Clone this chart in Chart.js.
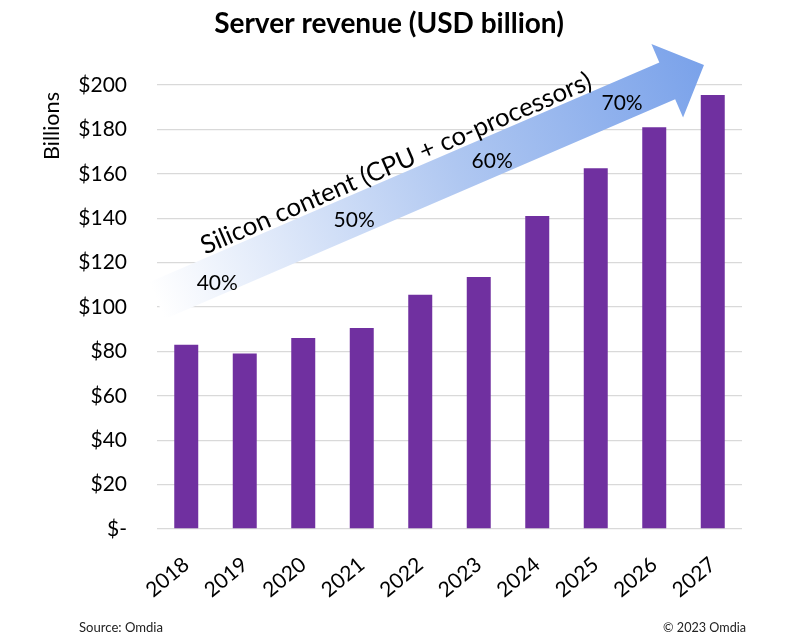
<!DOCTYPE html>
<html><head><meta charset="utf-8">
<script src="https://cdn.jsdelivr.net/npm/chart.js@4"></script>
<style>html,body{margin:0;padding:0;background:#fff}#wrap{width:800px;height:637px;position:relative}</style>
</head><body><div id="wrap"><canvas id="c" width="800" height="637"></canvas></div>
<script>
// ---- data ----
const categories = ['2018','2019','2020','2021','2022','2023','2024','2025','2026','2027'];
const revenue = [83, 79, 86, 90.5, 105.5, 113.5, 141, 162.5, 181, 195.5];
const yTickValues = [0, 20, 40, 60, 80, 100, 120, 140, 160, 180, 200];
const yTickLabels = ['$-', '$20', '$40', '$60', '$80', '$100', '$120', '$140', '$160', '$180', '$200'];
const siliconLabels = ['40%', '50%', '60%', '70%'];
const chartTitle = 'Server revenue (USD billion)';
const arrowCaption = 'Silicon content (CPU + co-processors)';
const yAxisTitle = 'Billions';
const sourceNote = 'Source: Omdia';
const copyrightNote = '\u00A9 2023 Omdia';

// ---- layout (annotation anchors in axis units) ----
const siliconAnchors = [[0.53, 110.8], [2.87, 139.2], [5.23, 165.8], [7.45, 191.9]];
const arrowTip = [8.85, 209];
const FONT = 'Lato, "Open Sans", sans-serif';

function fitSize(ctx, text, target, weight, base) {
  ctx.font = `${weight} ${base}px ${FONT}`;
  const w = ctx.measureText(text).width;
  return base * target / w;
}

const decor = {
  id: 'decor',
  beforeDatasetsDraw(chart) {
    const {ctx, chartArea: a, scales: {x, y}} = chart;
    const tipX = x.getPixelForValue(arrowTip[0]);
    const tipY = y.getPixelForValue(arrowTip[1]);
    const ang = 23.3 * Math.PI / 180;
    const len = (tipX - a.left) / Math.cos(ang);
    ctx.save();
    ctx.translate(tipX, tipY);
    ctx.rotate(-ang);
    const g = ctx.createLinearGradient(-len, 0, 0, 0);
    g.addColorStop(0, '#ffffff');
    g.addColorStop(0.55, '#afc7f1');
    g.addColorStop(1, '#7aa2ea');
    ctx.beginPath();
    ctx.moveTo(0, 0);
    ctx.lineTo(-40, -40);
    ctx.lineTo(-40, -20);
    ctx.lineTo(-len, -20);
    ctx.lineTo(-len, 20);
    ctx.lineTo(-40, 20);
    ctx.lineTo(-40, 40);
    ctx.closePath();
    ctx.fillStyle = g;
    ctx.fill();
    const cs = fitSize(ctx, arrowCaption, 423, 'normal', 24);
    ctx.font = `normal ${cs}px ${FONT}`;
    ctx.fillStyle = '#000';
    ctx.textAlign = 'left';
    ctx.textBaseline = 'alphabetic';
    ctx.fillText(arrowCaption, -533, -23);
    ctx.restore();

    ctx.save();
    ctx.font = `normal 21px ${FONT}`;
    ctx.fillStyle = '#000';
    ctx.textAlign = 'center';
    ctx.textBaseline = 'middle';
    siliconLabels.forEach((t, i) => {
      ctx.fillText(t, x.getPixelForValue(siliconAnchors[i][0]), y.getPixelForValue(siliconAnchors[i][1]));
    });
    ctx.restore();
  },
  afterDraw(chart) {
    const {ctx} = chart;
    ctx.save();
    ctx.fillStyle = '#000';
    // title
    const ts = fitSize(ctx, chartTitle, 350, 'bold', 24);
    ctx.font = `bold ${ts}px ${FONT}`;
    ctx.textAlign = 'center';
    ctx.textBaseline = 'middle';
    ctx.fillText(chartTitle, 389, 24);
    // y axis title
    const bs = fitSize(ctx, yAxisTitle, 68, 'normal', 21);
    ctx.font = `normal ${bs}px ${FONT}`;
    ctx.save();
    ctx.translate(52, 126);
    ctx.rotate(-Math.PI / 2);
    ctx.fillText(yAxisTitle, 0, 0);
    ctx.restore();
    // footer
    ctx.fillStyle = '#222';
    const fs = fitSize(ctx, sourceNote, 84, 'normal', 12);
    ctx.font = `normal ${fs}px ${FONT}`;
    ctx.textBaseline = 'alphabetic';
    ctx.textAlign = 'left';
    ctx.fillText(sourceNote, 79, 632);
    const fs2 = fitSize(ctx, copyrightNote, 83, 'normal', 12);
    ctx.font = `normal ${fs2}px ${FONT}`;
    ctx.textAlign = 'right';
    ctx.fillText(copyrightNote, 746, 632);
    ctx.restore();
  }
};

new Chart(document.getElementById('c'), {
  type: 'bar',
  data: {
    labels: categories,
    datasets: [{
      data: revenue,
      backgroundColor: '#7030A0',
      barPercentage: 0.41,
      categoryPercentage: 1
    }]
  },
  options: {
    responsive: false,
    animation: false,
    layout: {padding: {top: 85, right: 58, left: 0, bottom: 0}},
    plugins: {legend: {display: false}, tooltip: {enabled: false}, title: {display: false}},
    scales: {
      x: {
        grid: {display: false},
        border: {display: false},
        ticks: {
          font: {family: FONT, size: 21},
          color: '#000',
          minRotation: 40,
          maxRotation: 40,
          padding: 15
        },
        afterFit(s) { s.height = 108; }
      },
      y: {
        min: 0,
        max: 200,
        grid: {color: '#d9d9d9', lineWidth: 1.3, drawTicks: false},
        border: {display: false},
        afterBuildTicks(s) { s.ticks = yTickValues.map(v => ({value: v})); },
        ticks: {
          font: {family: FONT, size: 21},
          color: '#000',
          padding: 30,
          callback: (v) => yTickLabels[yTickValues.indexOf(v)]
        },
        afterFit(s) { s.width = 157; }
      }
    }
  },
  plugins: [decor]
});
</script>
</body></html>
